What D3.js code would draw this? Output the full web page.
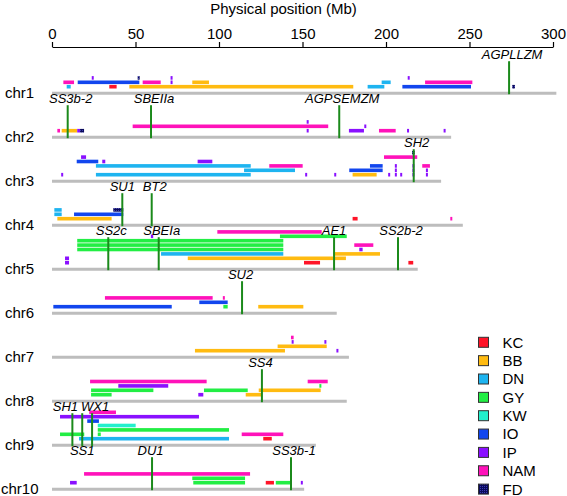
<!DOCTYPE html>
<html><head><meta charset="utf-8">
<script src="https://cdn.jsdelivr.net/npm/d3@7"></script>
<style>
html,body{margin:0;padding:0;background:#fff;}
svg{display:block;font-family:Arial,"Liberation Sans",sans-serif;}
</style></head>
<body>
<svg id="chart" width="567" height="496"></svg>
<script>
// ---------- data ----------
const chrNames = ["chr1","chr2","chr3","chr4","chr5","chr6","chr7","chr8","chr9","chr10"];
const chrLengths = [302, 239, 233, 246, 219, 170.5, 177.8, 176.5, 158, 151];
const axisTicks = [0, 50, 100, 150, 200, 250, 300];

const popNames = ["KC","BB","DN","GY","KW","IO","IP","NAM","FD"];
const popColors = ["#ff1428","#ffbb11","#1eb4f0","#22ee44","#22f0cc","#1246ee","#8a10ff","#ff12ba","#0c0c66"];

// QTL intervals per chromosome: [population, start Mb, end Mb, stacking lane]
const qtlChr1 = [
 ["DN",8.8,11.2,0],["KC",34.3,38.7,0],["BB",46.3,180.4,0],["DN",189,199,0],["IO",209.8,250.9,0],["FD",275.6,277.2,0],
 ["NAM",6.8,13.2,1],["IO",15.4,52.3,1],["NAM",54.3,65.1,1],["BB",84,94,1],["DN",197.4,202.8,1],["NAM",223.4,251.7,1],["IP",71,71.8,1],
 ["IP",23.8,24.5,2],["FD",51.3,52.1,2],["IP",71,71.8,2],["IP",213,213.8,2]
];
const qtlChr2 = [
 ["NAM",3.2,4.8,0],["BB",5.8,15.1,0],["IP",15.1,16.8,0],["FD",16.8,19.2,0],["IP",152.5,153.3,0],["IP",177.8,186.8,0],["NAM",195.8,205.8,0],["IP",212.6,213.8,0],["IP",234.5,235.7,0],
 ["NAM",48.3,165.4,1],["IP",187,188.2,1],
 ["IP",152.5,153.3,2]
];
const qtlChr3 = [
 ["IP",5.5,6.3,0],["DN",26.3,119,0],["IP",151.6,152.6,0],["IP",169,170,0],["BB",180,194.4,0],["IP",201.3,202.3,0],["IP",205.3,206.3,0],["IP",208.5,209.5,0],["IP",215.8,216.8,0],["IP",223.9,224.9,0],
 ["DN",115,145.5,1],["IO",178,198,1],["IP",205.3,206.3,1],["IP",215.8,216.8,1],["IP",223.9,224.9,1],
 ["DN",26.3,119,2],["NAM",130.1,150.1,2],["IO",190.4,198,2],["IP",205.3,206.3,2],["IP",215.8,216.8,2],["NAM",221.7,226.3,2],
 ["IO",14.8,27.7,3],["IP",30.1,31.9,3],["IP",87.2,96,3],
 ["IP",17.4,20.4,4],["NAM",198.8,218.7,4],
 ["FD",215.6,217.2,5]
];
const qtlChr4 = [
 ["BB",3.2,35.7,0],["KC",180,183,0],["NAM",238.5,239.3,0],
 ["DN",1.4,5.8,1],["IO",13.2,42.7,1],
 ["DN",1.4,5.8,2],["FD",36.7,42.7,2]
];
const qtlChr5 = [
 ["IP",7.8,10.2,0],["KC",150.9,160.5,0],["KC",213.4,216.3,0],
 ["IP",7.8,10.2,1],["BB",81.3,176,1],
 ["DN",65.3,138.5,2],["BB",168.4,196.4,2],
 ["GY",15.1,138.5,3],["IP",184,186,3],
 ["GY",15.1,138.5,4],["NAM",181,192.4,4],
 ["GY",15.1,138.5,5],
 ["GY",136.5,176.5,6],["IP",59.2,60.6,6],
 ["NAM",99,161.5,7]
];
const qtlChr6 = [
 ["IO",0.8,71.7,0],["GY",102.6,105.2,0],["BB",123.5,150.5,0],
 ["IO",88.2,105.2,1],
 ["NAM",31.7,96.2,2],["NAM",102.3,103,2]
];
const qtlChr7 = [
 ["BB",85.6,139.5,0],["IP",170.3,171.3,0],
 ["BB",135.1,164.5,1],
 ["IP",143.5,144.3,2],["IP",163.1,163.9,2],
 ["NAM",143.1,144.7,3]
];
const qtlChr8 = [
 ["GY",23.4,35.7,0],["IP",87.6,90.6,0],["BB",116,125.6,0],
 ["GY",23.4,60.7,1],["GY",91,117.2,1],["BB",123.8,160.9,1],
 ["IP",39.7,69.6,2],["GY",160.1,160.9,2],
 ["NAM",22.8,92.6,3],["NAM",153.1,165.1,3]
];
const qtlChr9 = [
 ["DN",16.2,106,0],["KC",126.5,131.6,0],
 ["GY",4.8,19.3,1],["GY",27.4,29.2,1],["NAM",113.6,138.5,1],
 ["GY",27.4,106,2],
 ["KW",27.4,50.1,3],
 ["IO",21.1,28.1,4],
 ["IP",4.8,88,5],
 ["NAM",22.3,38.3,6]
];
const qtlChr10 = [
 ["IP",10.8,14.8,0],["GY",84.6,115.6,0],["KC",128,132.9,0],["GY",134,143,0],["IP",149,150,0],
 ["GY",84,115.6,1],
 ["NAM",19.2,118.6,2]
];
const qtlByChr = [qtlChr1,qtlChr2,qtlChr3,qtlChr4,qtlChr5,qtlChr6,qtlChr7,qtlChr8,qtlChr9,qtlChr10];

const geneNames = ["AGPLLZM","SS3b-2","SBEIIa","AGPSEMZM","SH2","SU1","BT2","SS2c","SBEIa","AE1","SS2b-2","SU2","SS4","SH1","SS1","WX1","DU1","SS3b-1"];
const geneChr   = ["chr1","chr2","chr2","chr2","chr3","chr4","chr4","chr5","chr5","chr5","chr5","chr6","chr8","chr9","chr9","chr9","chr10","chr10"];
const genePos   = [273.7, 9.4, 59.3, 172, 216.6, 42.1, 59.7, 33.7, 63.9, 168.9, 207.2, 113.8, 125.7, 12.2, 18.1, 24, 59.9, 143.1];

// ---------- drawing ----------
const svg = d3.select("#chart");
const x = d3.scaleLinear().domain([0,300]).range([52,553]);
const yChr = d3.scalePoint().domain(chrNames).range([92.7,488.7]);
const laneOff = d3.scaleLinear().domain([0,1]).range([6,10.4]);
const color = d3.scaleOrdinal().domain(popNames).range(popColors);
const barH = 3.6;

// FD pattern
const defs = svg.append("defs");
const pat = defs.append("pattern").attr("id","fdpat").attr("width",2).attr("height",2).attr("patternUnits","userSpaceOnUse");
pat.append("rect").attr("width",2).attr("height",2).attr("fill","#0a0a5c");
pat.append("rect").attr("width",1).attr("height",1).attr("fill","#3a3ab0");
const fillOf = p => p === "FD" ? "url(#fdpat)" : color(p);

// title
svg.append("text").attr("x",283.5).attr("y",13.5).attr("text-anchor","middle")
  .attr("font-size",15).text("Physical position (Mb)");

// axis
const ax = svg.append("g").attr("transform","translate(0,47)")
  .call(d3.axisTop(x).tickValues(axisTicks).tickSize(5).tickSizeOuter(0).tickPadding(3.5));
ax.selectAll("text").attr("font-size",15).attr("font-family","Arial, 'Liberation Sans', sans-serif").attr("fill","#000");
ax.selectAll("line,path").attr("stroke","#000").attr("stroke-width",1.2);

// chromosomes
chrNames.forEach((c,i) => {
  const B = yChr(c);
  svg.append("text").attr("x", c === "chr10" ? 1 : 5).attr("y",B).attr("dy","0.35em")
    .attr("font-size",15).text(c);
  svg.append("line").attr("x1",x(0)).attr("x2",x(chrLengths[i])).attr("y1",B+0.5).attr("y2",B+0.5)
    .attr("stroke","#bdbdbd").attr("stroke-width",3);
  svg.append("g").selectAll("rect").data(qtlByChr[i]).join("rect")
    .attr("x", d => x(d[1]))
    .attr("width", d => Math.max(2, x(d[2]) - x(d[1])))
    .attr("y", d => B - laneOff(d[3]) - barH/2)
    .attr("height", barH)
    .attr("fill", d => fillOf(d[0]));
});

// candidate genes
geneNames.forEach((g,i) => {
  const B = yChr(geneChr[i]);
  const gx = x(genePos[i]);
  svg.append("line").attr("x1",gx).attr("x2",gx).attr("y1",B-31.5).attr("y2",B+1.5)
    .attr("stroke","#1b8a1b").attr("stroke-width",2);
  let lx = gx + 3, ly = B - 33.5;
  if (g === "SH1") lx = gx - 7;
  if (g === "SU1" || g === "AE1") lx = gx;
  if (g === "SU2" || g === "SS4" || g === "DU1") lx = gx - 1.5;
  if (g === "SS1") { lx = gx; ly = yChr("chr10") - 33.5; }
  svg.append("text").attr("x",lx).attr("y",ly).attr("text-anchor","middle")
    .attr("font-size",13).attr("font-style","italic").text(g);
});

// legend
const leg = svg.append("g");
popNames.forEach((p,i) => {
  const cy = 342.3 + i*18.35;
  leg.append("rect").attr("x",478.5).attr("y",cy-5).attr("width",10).attr("height",10)
    .attr("fill",fillOf(p)).attr("stroke","#333").attr("stroke-width",1);
  leg.append("text").attr("x",502.5).attr("y",cy).attr("dy","0.36em").attr("font-size",15).text(p);
});
</script>
</body></html>
